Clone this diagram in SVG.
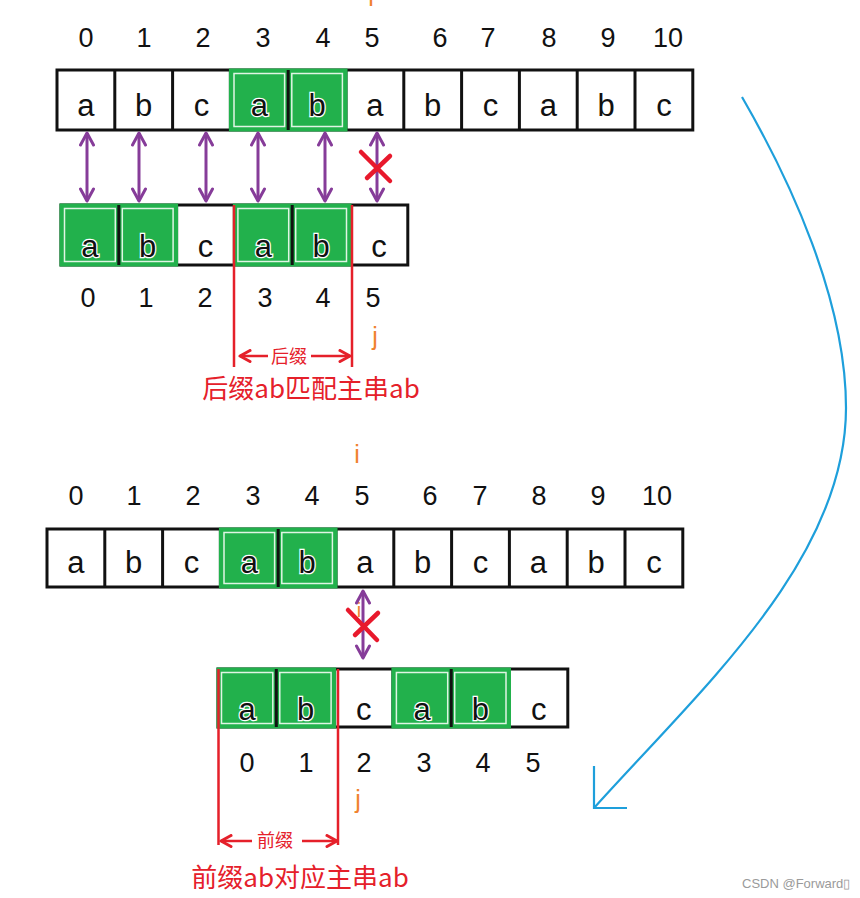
<svg xmlns="http://www.w3.org/2000/svg" width="860" height="898" viewBox="0 0 860 898">
<style>
.box{fill:#fff;stroke:#111;stroke-width:3}
.div{stroke:#111;stroke-width:3;fill:none}
.gr{fill:#22B14C;stroke:#22B14C;stroke-width:3}
.gi{fill:none;stroke:#dff5e4;stroke-width:1.5}
.ch{font-family:"Liberation Sans",Arial,sans-serif;font-size:31px;fill:#111;text-anchor:middle}
.chg{font-family:"Liberation Sans",Arial,sans-serif;font-size:31px;fill:#111;text-anchor:middle;stroke:#fff;stroke-width:2.5;paint-order:stroke}
.dg{font-family:"Liberation Sans",Arial,sans-serif;font-size:27px;fill:#111;text-anchor:middle}
.or{font-family:"Liberation Sans",Arial,sans-serif;font-size:25px;fill:#F0822E;text-anchor:middle}
.pu{stroke:#863C99;stroke-width:3;fill:none}
.rl{stroke:#E5202A;stroke-width:2.5;fill:none}
.rx{stroke:#E8192C;stroke-width:4.5;fill:none;stroke-linecap:round}
.lbs{font-family:"Noto Sans CJK SC",sans-serif;font-size:18px;fill:#E5202A;text-anchor:middle}
.lbb{font-family:"Noto Sans CJK SC",sans-serif;font-size:26px;fill:#E5202A;text-anchor:middle}
.bl{stroke:#1E9FDB;stroke-width:2.2;fill:none}
.wm{font-family:"Liberation Sans",Arial,sans-serif;font-size:13px;fill:#9a9a9a}
</style>
<defs>
<marker id="pa" viewBox="0 0 16 16" refX="14" refY="8" markerWidth="16" markerHeight="16" markerUnits="userSpaceOnUse" orient="auto-start-reverse">
<path d="M2,1.5 L14,8 L2,14.5" fill="none" stroke="#863C99" stroke-width="3" stroke-linecap="round" stroke-linejoin="round"/>
</marker>
<marker id="ra" viewBox="0 0 14 14" refX="12" refY="7" markerWidth="14" markerHeight="14" markerUnits="userSpaceOnUse" orient="auto">
<path d="M2,1.5 L12,7 L2,12.5" fill="none" stroke="#E5202A" stroke-width="3" stroke-linecap="round" stroke-linejoin="round"/>
</marker>
</defs>
<rect width="860" height="898" fill="#fff"/>

<!-- top main string -->
<g id="main-top">
<text class="or" x="371" y="6">i</text>
<g class="dg">
<text x="86" y="47">0</text><text x="144" y="47">1</text><text x="203" y="47">2</text><text x="263" y="47">3</text><text x="323" y="47">4</text><text x="372" y="47">5</text><text x="440" y="47">6</text><text x="488" y="47">7</text><text x="549" y="47">8</text><text x="608" y="47">9</text><text x="668" y="47">10</text>
</g>
<rect class="box" x="57" y="70" width="635.8" height="60"/>
<path class="div" d="M114.8,70V130M172.6,70V130M230.4,70V130M288.2,70V130M346,70V130M403.8,70V130M461.6,70V130M519.4,70V130M577.2,70V130M635,70V130"/>
<rect class="gr" x="230.4" y="70" width="115.6" height="60"/>
<rect class="gi" x="234" y="73.5" width="50.6" height="53"/>
<rect class="gi" x="291.8" y="73.5" width="50.6" height="53"/>
<path class="div" d="M288.2,70V130"/>
<text class="ch" x="85.9" y="116">a</text><text class="ch" x="143.7" y="116">b</text><text class="ch" x="201.5" y="116">c</text>
<text class="chg" x="259.3" y="116">a</text><text class="chg" x="317.1" y="116">b</text>
<text class="ch" x="374.9" y="116">a</text><text class="ch" x="432.7" y="116">b</text><text class="ch" x="490.5" y="116">c</text><text class="ch" x="548.3" y="116">a</text><text class="ch" x="606.1" y="116">b</text><text class="ch" x="663.9" y="116">c</text>
</g>

<!-- top pattern -->
<g id="pattern-top">
<rect class="box" x="61" y="205" width="346.8" height="60"/>
<path class="div" d="M118.8,205V265M176.6,205V265M234.4,205V265M292.2,205V265M350,205V265"/>
<rect class="gr" x="61" y="205" width="115.6" height="60"/>
<rect class="gi" x="64.5" y="208.5" width="50.8" height="53"/>
<rect class="gi" x="122.3" y="208.5" width="50.8" height="53"/>
<rect class="gr" x="234.4" y="205" width="115.6" height="60"/>
<rect class="gi" x="237.9" y="208.5" width="50.8" height="53"/>
<rect class="gi" x="295.7" y="208.5" width="50.8" height="53"/>
<path class="div" d="M118.8,205V265M292.2,205V265"/>
<text class="chg" x="89.9" y="257">a</text><text class="chg" x="147.7" y="257">b</text><text class="ch" x="205.5" y="257">c</text>
<text class="chg" x="263.3" y="257">a</text><text class="chg" x="321.1" y="257">b</text><text class="ch" x="378.9" y="257">c</text>
<g class="dg">
<text x="88" y="307">0</text><text x="146" y="307">1</text><text x="205" y="307">2</text><text x="265" y="307">3</text><text x="323" y="307">4</text><text x="373" y="307">5</text>
</g>
<text class="or" x="375" y="345">j</text>
</g>

<!-- bottom main string -->
<g id="main-bottom">
<text class="or" x="357" y="463">i</text>
<g class="dg">
<text x="76" y="505">0</text><text x="134" y="505">1</text><text x="193" y="505">2</text><text x="253" y="505">3</text><text x="312" y="505">4</text><text x="362" y="505">5</text><text x="430" y="505">6</text><text x="480" y="505">7</text><text x="539" y="505">8</text><text x="598" y="505">9</text><text x="657" y="505">10</text>
</g>
<rect class="box" x="47" y="529" width="635.8" height="58"/>
<path class="div" d="M104.8,529V587M162.6,529V587M220.4,529V587M278.2,529V587M336,529V587M393.8,529V587M451.6,529V587M509.4,529V587M567.2,529V587M625,529V587"/>
<rect class="gr" x="220.4" y="529" width="115.6" height="58"/>
<rect class="gi" x="224" y="532.5" width="50.6" height="51"/>
<rect class="gi" x="281.8" y="532.5" width="50.6" height="51"/>
<path class="div" d="M278.2,529V587"/>
<text class="ch" x="75.9" y="573">a</text><text class="ch" x="133.7" y="573">b</text><text class="ch" x="191.5" y="573">c</text>
<text class="chg" x="249.3" y="573">a</text><text class="chg" x="307.1" y="573">b</text>
<text class="ch" x="364.9" y="573">a</text><text class="ch" x="422.7" y="573">b</text><text class="ch" x="480.5" y="573">c</text><text class="ch" x="538.3" y="573">a</text><text class="ch" x="596.1" y="573">b</text><text class="ch" x="653.9" y="573">c</text>
</g>

<!-- bottom pattern -->
<g id="pattern-bottom">
<rect class="box" x="218" y="669" width="349.8" height="58"/>
<path class="div" d="M276.3,669V727M334.6,669V727M392.9,669V727M451.2,669V727M509.5,669V727"/>
<rect class="gr" x="218" y="669" width="116.6" height="58"/>
<rect class="gi" x="221.5" y="672.5" width="51.3" height="51"/>
<rect class="gi" x="279.8" y="672.5" width="51.3" height="51"/>
<rect class="gr" x="392.9" y="669" width="116.6" height="58"/>
<rect class="gi" x="396.4" y="672.5" width="51.3" height="51"/>
<rect class="gi" x="454.7" y="672.5" width="51.3" height="51"/>
<path class="div" d="M276.3,669V727M451.2,669V727"/>
<text class="chg" x="247.2" y="720">a</text><text class="chg" x="305.5" y="720">b</text><text class="ch" x="363.8" y="720">c</text>
<text class="chg" x="422.1" y="720">a</text><text class="chg" x="480.4" y="720">b</text><text class="ch" x="538.7" y="720">c</text>
<g class="dg">
<text x="247" y="772">0</text><text x="306" y="772">1</text><text x="364" y="772">2</text><text x="424" y="772">3</text><text x="483" y="772">4</text><text x="533" y="772">5</text>
</g>
<text class="or" x="358" y="808">j</text>
</g>

<!-- connectors -->
<g id="connectors">
<path class="pu" marker-start="url(#pa)" marker-end="url(#pa)" d="M87,133V201"/>
<path class="pu" marker-start="url(#pa)" marker-end="url(#pa)" d="M139,133V201"/>
<path class="pu" marker-start="url(#pa)" marker-end="url(#pa)" d="M206,133V201"/>
<path class="pu" marker-start="url(#pa)" marker-end="url(#pa)" d="M258,133V201"/>
<path class="pu" marker-start="url(#pa)" marker-end="url(#pa)" d="M325,133V201"/>
<path class="pu" marker-start="url(#pa)" marker-end="url(#pa)" d="M377,133V201"/>
<path class="rx" d="M361,152L390,181M390,156L367,178"/>
<text class="or" x="359" y="617" style="font-size:20px">i</text>
<path class="pu" marker-start="url(#pa)" marker-end="url(#pa)" d="M363,591V658"/>
<path class="rx" d="M348,610L377,640M378,613L355,635"/>
<path class="rl" d="M234,205V367M352,205V367"/>
<path class="rl" marker-end="url(#ra)" d="M268,356H240"/>
<path class="rl" marker-end="url(#ra)" d="M311,356H350"/>
<path class="rl" d="M218.5,669V845M338,669V845"/>
<path class="rl" marker-end="url(#ra)" d="M252,841H221"/>
<path class="rl" marker-end="url(#ra)" d="M302,841H337"/>
<path class="bl" d="M742,97C790,180 846,300 846,408C846,560 700,690 594,808"/>
<path class="bl" d="M594,766V808H627"/>
</g>

<g id="labels">
<text class="lbs" x="289" y="363">后缀</text>
<text class="lbb" x="311" y="398">后缀ab匹配主串ab</text>
<text class="lbs" x="275" y="847">前缀</text>
<text class="lbb" x="300" y="887">前缀ab对应主串ab</text>
<text class="wm" x="742" y="888">CSDN @Forward▯</text>
</g>
</svg>
